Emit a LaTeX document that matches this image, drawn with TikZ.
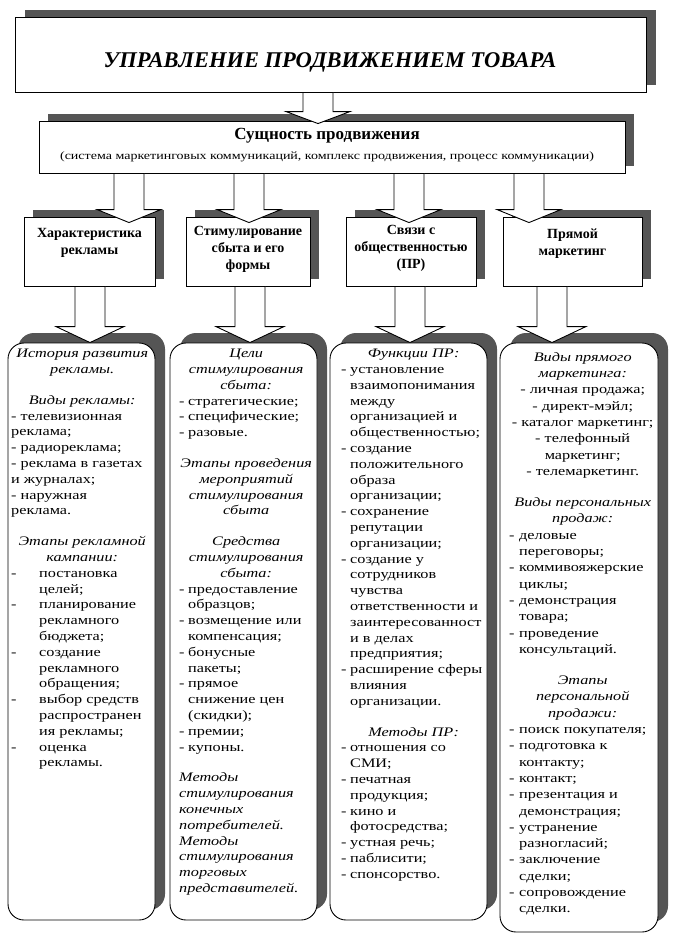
\documentclass[tikz,border=0pt]{standalone}
\usepackage{fontspec}
\setmainfont{Liberation Serif}
\newfontfamily\bodyfont{Liberation Serif}[FakeStretch=1.25]
\usetikzlibrary{calc,shadows}
\definecolor{shadowc}{RGB}{85,85,85}
\newcommand\Cl[1]{\hbox to\hsize{\hss#1\hss}}
\newcommand\Ll[1]{\hbox to\hsize{#1\hss}}
\newcommand\Il[2]{\hbox to\hsize{\hspace*{#1}#2\hss}}
\newcommand\Dl[2]{\hbox to\hsize{\makebox[#1][l]{-}#2\hss}}
\newcommand\Gp[1][15pt]{\vskip#1\relax}
\newcommand\barrow[6]{% src, tgt, xc, tip depth, head length, head half width
  \draw[blockarrow] let \p1=(#1.south), \p2=(#2.north) in
    ({#3pt-15pt},\y1) -- ({#3pt-15pt},{\y2-#4pt+#5pt}) -- ({#3pt-#6pt},{\y2-#4pt+#5pt})
    -- ({#3pt},{\y2-#4pt}) -- ({#3pt+#6pt},{\y2-#4pt+#5pt}) -- ({#3pt+15pt},{\y2-#4pt+#5pt})
    -- ({#3pt+15pt},\y1) -- cycle;}
\tikzset{
  box/.style={draw, line width=0.9pt, fill=white, inner sep=0pt},
  shad/.style={drop shadow={shadow xshift=9pt, shadow yshift=7pt, opacity=1, fill=shadowc}},
  bshad/.style={drop shadow={shadow xshift=10pt, shadow yshift=10pt, opacity=1, fill=shadowc}},
  colbox/.style={box, rounded corners=16pt, bshad},
  blockarrow/.style={draw, line width=0.9pt, fill=white, line join=miter},
  headtext/.style={font=\bfseries\fontsize{14}{17}\selectfont, align=center, inner sep=0pt},
  coltext/.style={font=\bodyfont\fontsize{13}{15.8}\selectfont, inner sep=0pt, anchor=north west},
}
\begin{document}
\begin{tikzpicture}[x=1pt, y=-1pt]
\useasboundingbox[fill=white] (0,0) rectangle (674,938);
% title
\node[box, shad, minimum width=631pt, minimum height=75pt] (title) at (331,54.5) {};
\node[font=\bfseries\itshape\fontsize{22.5}{26}\selectfont, inner sep=0pt] (titlet) at (330,62) {УПРАВЛЕНИЕ ПРОДВИЖЕНИЕМ ТОВАРА};
% essence
\node[box, shad, minimum width=586pt, minimum height=52pt] (ess) at (332,147) {};
\node[font=\bfseries\fontsize{17}{20}\selectfont, inner sep=0pt] (esst) at (327,136) {Сущность продвижения};
\node[font=\bodyfont\fontsize{11.2}{13}\selectfont, inner sep=0pt] (esss) at (327,157) {(система маркетинговых коммуникаций, комплекс продвижения, процесс коммуникации)};
% headers
\node[box, shad, minimum width=131pt, minimum height=69pt] (h1) at (89.5,251.5) {};
\node[box, shad, minimum width=124pt, minimum height=69pt] (h2) at (248,251.5) {};
\node[box, shad, minimum width=130pt, minimum height=69pt] (h3) at (411,251.5) {};
\node[box, shad, minimum width=139pt, minimum height=69pt] (h4) at (572.5,251.5) {};
\node[headtext] (h1t) at (89.5,243) {Характеристика\\рекламы};
\node[headtext] (h2t) at (248,249) {Стимулирование\\сбыта и его\\формы};
\node[headtext] (h3t) at (411,248) {Связи с\\общественностью\\(ПР)};
\node[headtext] (h4t) at (572.5,244) {Прямой\\маркетинг};
% column boxes
\node[colbox, minimum width=147pt, minimum height=577pt] (c1) at (81.5,631.5) {};
\node[colbox, minimum width=147pt, minimum height=577pt] (c2) at (243.5,631.5) {};
\node[colbox, minimum width=157pt, minimum height=577pt] (c3) at (408.5,631.5) {};
\node[colbox, minimum width=158pt, minimum height=589pt] (c4) at (579,637.5) {};
% arrows
\barrow{title}{ess}{318}{3}{12}{32}
\barrow{ess}{h1}{129}{6}{13}{32}
\barrow{ess}{h2}{249}{6}{13}{32}
\barrow{ess}{h3}{409}{6}{13}{32}
\barrow{ess}{h4}{529}{6}{13}{32}
\barrow{h1}{c1}{90}{0}{16}{34}
\barrow{h2}{c2}{250}{0}{16}{34}
\barrow{h3}{c3}{410}{0}{16}{34}
\barrow{h4}{c4}{552}{0}{16}{34}
% column texts
\node[coltext] (c1t) at (11,349) {\vbox{\hsize=142pt
\Cl{\itshape История развития}
\Cl{\itshape рекламы.}
\Gp
\Cl{\itshape Виды рекламы:}
\Ll{- телевизионная}
\Ll{реклама;}
\Ll{- радиореклама;}
\Ll{- реклама в газетах}
\Ll{и журналах;}
\Ll{- наружная}
\Ll{реклама.}
\Gp
\Cl{\itshape Этапы рекламной}
\Cl{\itshape кампании:}
\Dl{28pt}{постановка}
\Il{28pt}{целей;}
\Dl{28pt}{планирование}
\Il{28pt}{рекламного}
\Il{28pt}{бюджета;}
\Dl{28pt}{создание}
\Il{28pt}{рекламного}
\Il{28pt}{обращения;}
\Dl{28pt}{выбор средств}
\Il{28pt}{распространен}
\Il{28pt}{ия рекламы;}
\Dl{28pt}{оценка}
\Il{28pt}{рекламы.}
}};
\node[coltext] (c2t) at (179,349) {\vbox{\hsize=134pt
\Cl{\itshape Цели}
\Cl{\itshape стимулирования}
\Cl{\itshape сбыта:}
\Dl{9pt}{стратегические;}
\Dl{9pt}{специфические;}
\Dl{9pt}{разовые.}
\Gp
\Cl{\itshape Этапы проведения}
\Cl{\itshape мероприятий}
\Cl{\itshape стимулирования}
\Cl{\itshape сбыта}
\Gp
\Cl{\itshape Средства}
\Cl{\itshape стимулирования}
\Cl{\itshape сбыта:}
\Dl{9pt}{предоставление}
\Il{9pt}{образцов;}
\Dl{9pt}{возмещение или}
\Il{9pt}{компенсация;}
\Dl{9pt}{бонусные}
\Il{9pt}{пакеты;}
\Dl{9pt}{прямое}
\Il{9pt}{снижение цен}
\Il{9pt}{(скидки);}
\Dl{9pt}{премии;}
\Dl{9pt}{купоны.}
\Gp
\Ll{\itshape Методы}
\Ll{\itshape стимулирования}
\Ll{\itshape конечных}
\Ll{\itshape потребителей.}
\Ll{\itshape Методы}
\Ll{\itshape стимулирования}
\Ll{\itshape торговых}
\Ll{\itshape представителей.}
}};
\node[coltext] (c3t) at (341,349) {\vbox{\hsize=145pt
\Cl{\itshape Функции ПР:}
\Dl{9pt}{установление}
\Il{9pt}{взаимопонимания}
\Il{9pt}{между}
\Il{9pt}{организацией и}
\Il{9pt}{общественностью;}
\Dl{9pt}{создание}
\Il{9pt}{положительного}
\Il{9pt}{образа}
\Il{9pt}{организации;}
\Dl{9pt}{сохранение}
\Il{9pt}{репутации}
\Il{9pt}{организации;}
\Dl{9pt}{создание у}
\Il{9pt}{сотрудников}
\Il{9pt}{чувства}
\Il{9pt}{ответственности и}
\Il{9pt}{заинтересованност}
\Il{9pt}{и в делах}
\Il{9pt}{предприятия;}
\Dl{9pt}{расширение сферы}
\Il{9pt}{влияния}
\Il{9pt}{организации.}
\Gp
\Cl{\itshape Методы ПР:}
\Dl{9pt}{отношения со}
\Il{9pt}{СМИ;}
\Dl{9pt}{печатная}
\Il{9pt}{продукция;}
\Dl{9pt}{кино и}
\Il{9pt}{фотосредства;}
\Dl{9pt}{устная речь;}
\Dl{9pt}{паблисити;}
\Dl{9pt}{спонсорство.}
}};
\node[coltext, font=\bodyfont\fontsize{13}{16.3}\selectfont] (c4t) at (509,352) {\vbox{\hsize=147pt
\Cl{\itshape Виды прямого}
\Cl{\itshape маркетинга:}
\Cl{- личная продажа;}
\Cl{- директ-мэйл;}
\Cl{- каталог маркетинг;}
\Cl{- телефонный}
\Cl{маркетинг;}
\Cl{- телемаркетинг.}
\Gp
\Cl{\itshape Виды персональных}
\Cl{\itshape продаж:}
\Dl{10pt}{деловые}
\Il{10pt}{переговоры;}
\Dl{10pt}{коммивояжерские}
\Il{10pt}{циклы;}
\Dl{10pt}{демонстрация}
\Il{10pt}{товара;}
\Dl{10pt}{проведение}
\Il{10pt}{консультаций.}
\Gp
\Cl{\itshape Этапы}
\Cl{\itshape персональной}
\Cl{\itshape продажи:}
\Dl{10pt}{поиск покупателя;}
\Dl{10pt}{подготовка к}
\Il{10pt}{контакту;}
\Dl{10pt}{контакт;}
\Dl{10pt}{презентация и}
\Il{10pt}{демонстрация;}
\Dl{10pt}{устранение}
\Il{10pt}{разногласий;}
\Dl{10pt}{заключение}
\Il{10pt}{сделки;}
\Dl{10pt}{сопровождение}
\Il{10pt}{сделки.}
}};
\end{tikzpicture}
\end{document}
